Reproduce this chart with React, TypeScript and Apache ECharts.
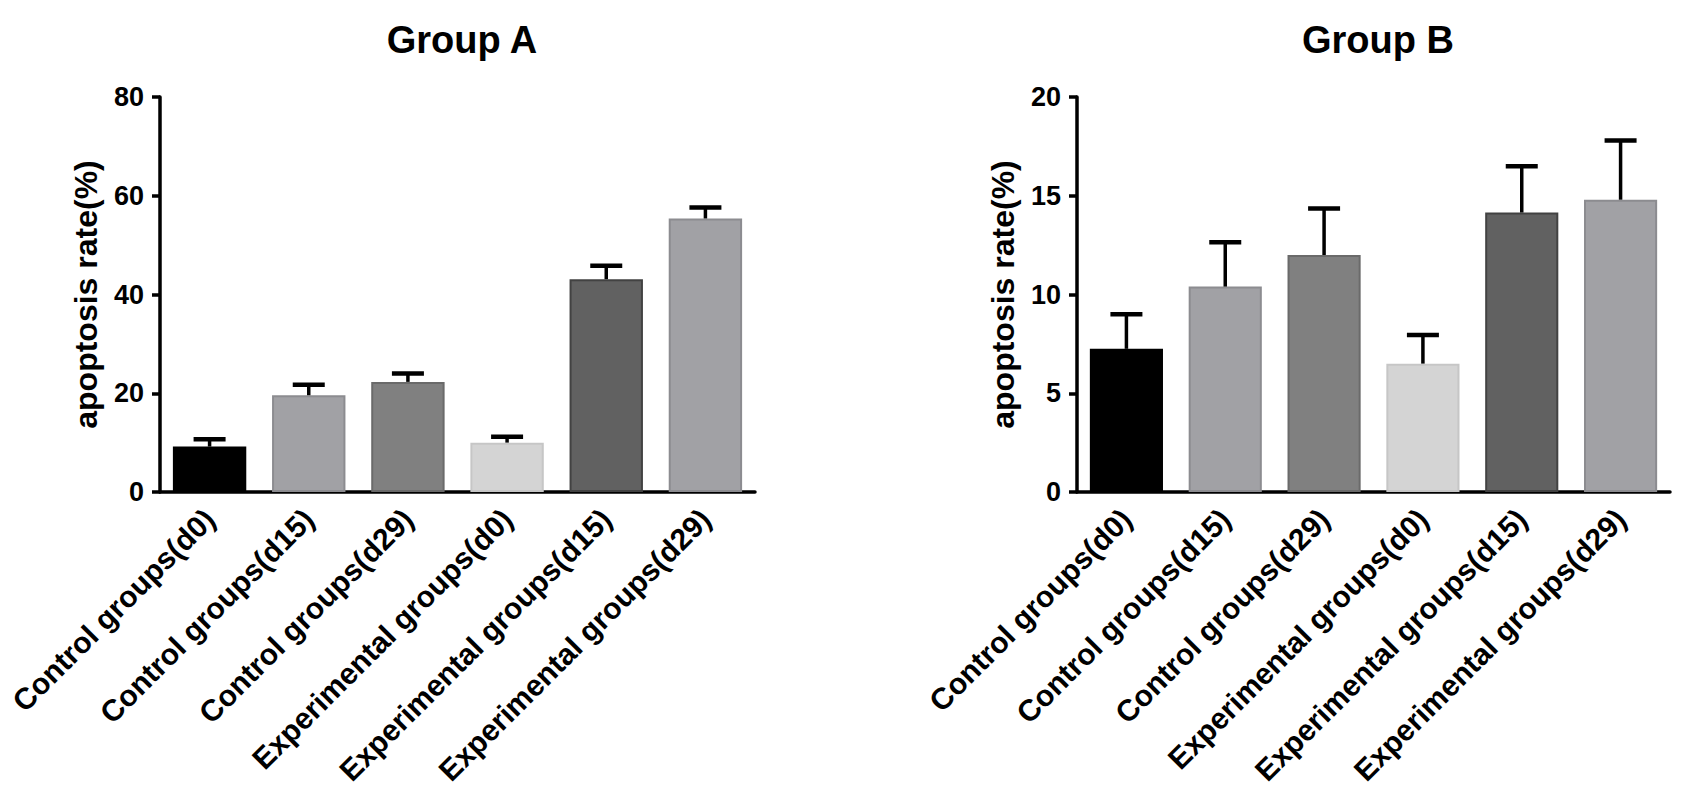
import React, { useEffect, useRef } from "react";
import * as echarts from "echarts";

const categories = [
  "Control groups(d0)",
  "Control groups(d15)",
  "Control groups(d29)",
  "Experimental groups(d0)",
  "Experimental groups(d15)",
  "Experimental groups(d29)",
];
const groupAMeans = [9.2, 19.6, 22.3, 10.0, 43.1, 55.4];
const groupAErrors = [1.5, 2.1, 1.7, 1.2, 2.7, 2.2];
const groupBMeans = [7.25, 10.4, 12.0, 6.5, 14.15, 14.8];
const groupBErrors = [1.75, 2.25, 2.35, 1.45, 2.35, 3.0];
const groupATicks = { min: 0, max: 80, interval: 20 };
const groupBTicks = { min: 0, max: 20, interval: 5 };
const titles = ["Group A", "Group B"];
const yAxisName = "apoptosis rate(%)";
const barColors = ["#000000", "#a1a1a5", "#808080", "#d4d4d4", "#616161", "#a1a1a5"];
const barBorders = ["#000000", "#8c8c90", "#6a6a6a", "#c6c6c6", "#424242", "#8c8c90"];

const FONT = "'Liberation Sans', Arial, sans-serif";

function errorRender(params: any, api: any) {
  const x = api.value(0);
  const v = api.value(1);
  const e = api.value(2);
  const p0 = api.coord([x, v]);
  const p1 = api.coord([x, v + e]);
  return {
    type: "group",
    children: [
      {
        type: "line",
        shape: { x1: p0[0], y1: p0[1], x2: p1[0], y2: p1[1] },
        style: { stroke: "#000", lineWidth: 3.5 },
      },
      {
        type: "line",
        shape: { x1: p1[0] - 16, y1: p1[1], x2: p1[0] + 16, y2: p1[1] },
        style: { stroke: "#000", lineWidth: 4.5 },
      },
    ],
  };
}

export default function App() {
  const ref = useRef<HTMLDivElement>(null);
  useEffect(() => {
    if (!ref.current) return;
    const chart = echarts.init(ref.current, null, { renderer: "svg" });
    const grids = [
      { left: 160, top: 97, width: 595, height: 395 },
      { left: 1077, top: 97, width: 593, height: 395 },
    ];
    const ticks = [groupATicks, groupBTicks];
    const means = [groupAMeans, groupBMeans];
    const errs = [groupAErrors, groupBErrors];
    const titleX = [457, 1373];
    const option: any = {
      animation: false,
      backgroundColor: "#ffffff",
      title: titles.map((t, i) => ({
        text: t,
        left: titleX[i],
        top: 16,
        textAlign: "center",
        textStyle: { fontFamily: FONT, fontWeight: "bold", fontSize: 38, color: "#000" },
      })),
      grid: grids.map((g) => ({ ...g, containLabel: false })),
      xAxis: grids.map((_, i) => ({
        type: "category",
        gridIndex: i,
        data: categories,
        boundaryGap: true,
        axisLine: { lineStyle: { color: "#000", width: 3.5 } },
        axisTick: { alignWithLabel: true, length: 9, lineStyle: { color: "#000", width: 3.5 } },
        axisLabel: {
          rotate: 45,
          interval: 0,
          margin: 22,
          color: "#000",
          fontFamily: FONT,
          fontWeight: "bold",
          fontSize: 30,
        },
      })),
      yAxis: grids.map((_, i) => ({
        type: "value",
        gridIndex: i,
        min: ticks[i].min,
        max: ticks[i].max,
        interval: ticks[i].interval,
        name: yAxisName,
        nameLocation: "middle",
        nameGap: 58,
        nameRotate: 90,
        nameTextStyle: { fontFamily: FONT, fontWeight: "bold", fontSize: 32, color: "#000" },
        splitLine: { show: false },
        axisLine: { show: true, lineStyle: { color: "#000", width: 3.5 } },
        axisTick: { show: true, length: 8, lineStyle: { color: "#000", width: 3.5 } },
        axisLabel: {
          margin: 16,
          color: "#000",
          fontFamily: FONT,
          fontWeight: "bold",
          fontSize: 27,
        },
      })),
      series: [0, 1].flatMap((i) => [
        {
          type: "bar",
          xAxisIndex: i,
          yAxisIndex: i,
          barWidth: "74%",
          data: means[i].map((v, k) => ({
            value: v,
            itemStyle: { color: barColors[k], borderColor: barBorders[k], borderWidth: 2 },
          })),
        },
        {
          type: "custom",
          xAxisIndex: i,
          yAxisIndex: i,
          renderItem: errorRender,
          encode: { x: 0, y: 1 },
          data: means[i].map((v, k) => [k, v, errs[i][k]]),
          z: 5,
        },
      ]),
    };
    chart.setOption(option);
    return () => chart.dispose();
  }, []);
  return (
    <div
      ref={ref}
      style={{ position: "fixed", left: 0, top: 0, width: "1694px", height: "811px", background: "#fff" }}
    />
  );
}
